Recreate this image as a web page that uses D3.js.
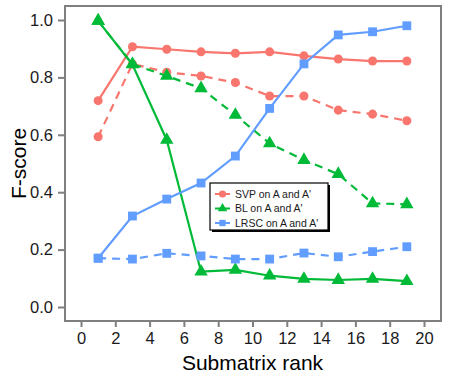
<!DOCTYPE html>
<html>
<head>
<meta charset="utf-8">
<script src="https://cdn.jsdelivr.net/npm/d3@7"></script>
<style>
  body { margin: 0; background: #fff; }
  text { font-family: "Liberation Sans", Arial, sans-serif; }
</style>
</head>
<body>
<div id="chart"></div>
<script>
// data
const ranks = [1, 3, 5, 7, 9, 11, 13, 15, 17, 19]
const svpSolid = [0.719, 0.907, 0.898, 0.889, 0.884, 0.889, 0.875, 0.864, 0.857, 0.857]
const svpDashed = [0.593, 0.847, 0.818, 0.805, 0.782, 0.735, 0.735, 0.686, 0.672, 0.649]
const blSolid = [0.997, 0.845, 0.582, 0.123, 0.129, 0.109, 0.098, 0.094, 0.098, 0.090]
const blDashed = [0.997, 0.846, 0.805, 0.762, 0.669, 0.570, 0.512, 0.463, 0.361, 0.358]
const lrscSolid = [0.170, 0.317, 0.376, 0.432, 0.526, 0.692, 0.847, 0.948, 0.959, 0.980]
const lrscDashed = [0.170, 0.167, 0.187, 0.178, 0.167, 0.167, 0.188, 0.175, 0.193, 0.210]
const xTicks = [0, 2, 4, 6, 8, 10, 12, 14, 16, 18, 20]
const yTicks = [0, 0.2, 0.4, 0.6, 0.8, 1.0]
const legendLabels = ["SVP on A and A'", "BL on A and A'", "LRSC on A and A'"]

const RED = "#F8766D", GREEN = "#00BA38", BLUE = "#619CFF"

const W = 450, H = 375
const panel = { left: 65, right: 441, top: 6, bottom: 321 }

const x = d3.scaleLinear().domain([0, 20]).range([81, 424])
const y = d3.scaleLinear().domain([0, 1]).range([307, 20])

const svg = d3.select("#chart").append("svg")
  .attr("width", W)
  .attr("height", H)

// panel border
svg.append("rect")
  .attr("x", panel.left)
  .attr("y", panel.top)
  .attr("width", panel.right - panel.left)
  .attr("height", panel.bottom - panel.top)
  .attr("fill", "none")
  .attr("stroke", "#7f7f7f")
  .attr("stroke-width", 2)

// axes
const yAxis = svg.append("g")
  .attr("transform", "translate(" + (panel.left - 1) + ",0)")
  .call(d3.axisLeft(y).tickValues(yTicks).tickFormat(d3.format(".1f")).tickSize(6).tickPadding(5))
const xAxis = svg.append("g")
  .attr("transform", "translate(0," + (panel.bottom + 1) + ")")
  .call(d3.axisBottom(x).tickValues(xTicks).tickSize(5).tickPadding(5))

;[xAxis, yAxis].forEach(function (a) {
  a.select(".domain").remove()
  a.selectAll(".tick line").attr("stroke", "#7f7f7f").attr("stroke-width", 2)
  a.selectAll(".tick text").attr("fill", "#1a1a1a").style("font-size", "16.5px")
})

svg.append("text")
  .attr("x", x(10))
  .attr("y", 370)
  .attr("text-anchor", "middle")
  .style("font-size", "21px")
  .text("Submatrix rank")

svg.append("text")
  .attr("transform", "translate(26," + y(0.5) + ") rotate(-90)")
  .attr("text-anchor", "middle")
  .style("font-size", "21px")
  .text("F-score")

const series = [
  { vals: svpSolid, color: RED, shape: d3.symbolCircle, dash: null },
  { vals: svpDashed, color: RED, shape: d3.symbolCircle, dash: "8,6" },
  { vals: blSolid, color: GREEN, shape: d3.symbolTriangle, dash: null },
  { vals: blDashed, color: GREEN, shape: d3.symbolTriangle, dash: "8,6" },
  { vals: lrscSolid, color: BLUE, shape: d3.symbolSquare, dash: null },
  { vals: lrscDashed, color: BLUE, shape: d3.symbolSquare, dash: "8,6" }
]

const line = d3.line()
  .x(function (d, i) { return x(ranks[i]) })
  .y(function (d) { return y(d) })

series.forEach(function (s) {
  svg.append("path")
    .datum(s.vals)
    .attr("d", line)
    .attr("fill", "none")
    .attr("stroke", s.color)
    .attr("stroke-width", 2.2)
    .attr("stroke-dasharray", s.dash)
  svg.append("g").selectAll("path")
    .data(s.vals)
    .enter().append("path")
    .attr("transform", function (d, i) { return "translate(" + x(ranks[i]) + "," + y(d) + ")" })
    .attr("d", d3.symbol().type(s.shape).size(s.shape === d3.symbolCircle ? 64 : s.shape === d3.symbolTriangle ? 78 : 78))
    .attr("fill", s.color)
})

// legend
const lg = svg.append("g").attr("transform", "translate(210,183)")
lg.append("rect")
  .attr("x", 2).attr("y", 2)
  .attr("width", 118).attr("height", 47)
  .attr("fill", "#000")
lg.append("rect")
  .attr("width", 118).attr("height", 47)
  .attr("fill", "#fff")
  .attr("stroke", "#000")
  .attr("stroke-width", 1.2)
const legShapes = [d3.symbolCircle, d3.symbolTriangle, d3.symbolSquare]
const legColors = [RED, GREEN, BLUE]
legendLabels.forEach(function (t, i) {
  const ly = 11 + i * 14.5
  lg.append("line")
    .attr("x1", 5).attr("x2", 20)
    .attr("y1", ly).attr("y2", ly)
    .attr("stroke", legColors[i]).attr("stroke-width", 2)
  lg.append("path")
    .attr("transform", "translate(12.5," + ly + ")")
    .attr("d", d3.symbol().type(legShapes[i]).size(40))
    .attr("fill", legColors[i])
  lg.append("text")
    .attr("x", 25).attr("y", ly + 3.5)
    .style("font-size", "10.5px")
    .attr("fill", "#1a1a1a")
    .text(t)
})
</script>
</body>
</html>
